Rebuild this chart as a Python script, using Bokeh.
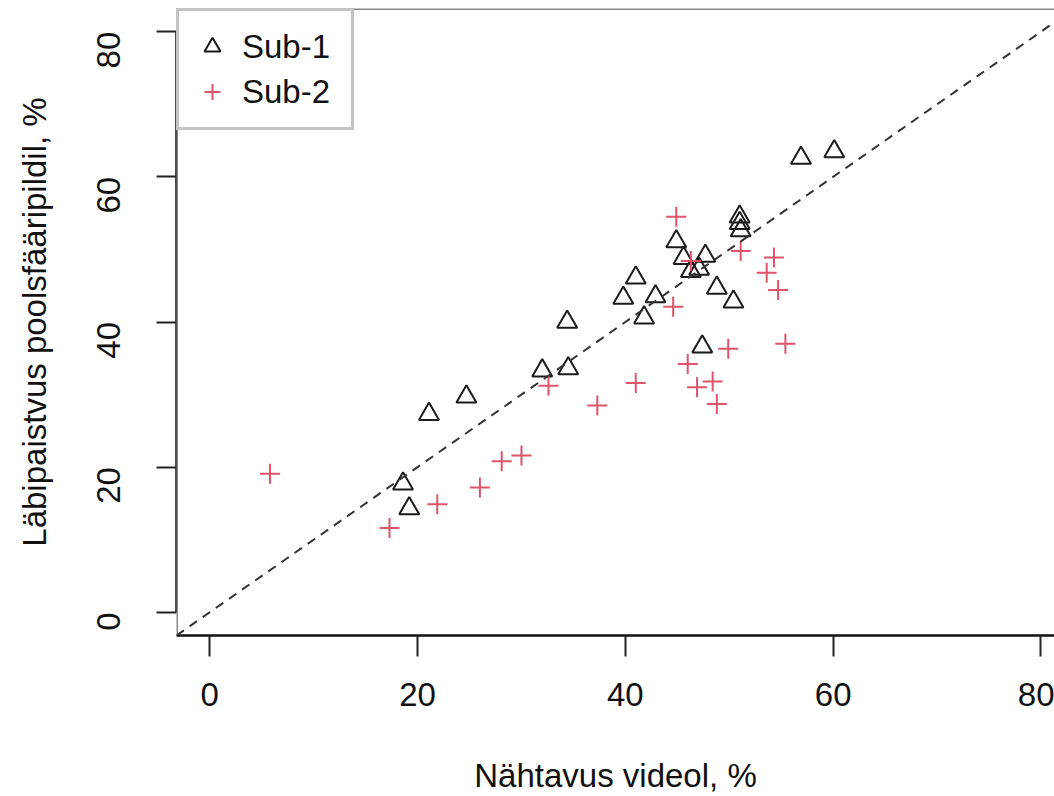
import math
from bokeh.plotting import figure
from bokeh.models import (Range1d, FixedTicker, Legend, LegendItem, Slope, Span)
from bokeh.embed import file_html
from bokeh.resources import INLINE

# Sub-1 measurements: visibility on video (%) vs. transparency on hemisphere image (%)
sub1_video = [18.6, 19.2, 21.1, 24.7, 32.0, 34.5, 34.4, 39.8, 41.0, 41.8, 42.9,
              44.9, 45.6, 46.3, 47.1, 47.7, 47.4, 48.8, 50.4, 51.0, 51.0, 51.1,
              56.9, 60.1]
sub1_hemi = [17.7, 14.3, 27.3, 29.7, 33.3, 33.6, 40.0, 43.3, 46.1, 40.6, 43.5,
             51.1, 48.8, 47.0, 47.3, 49.1, 36.6, 44.7, 42.8, 54.5, 53.6, 52.6,
             62.6, 63.5]

# Sub-2 measurements
sub2_video = [5.8, 17.3, 21.9, 26.0, 28.1, 30.0, 32.6, 37.3, 41.0, 44.6, 44.9,
              46.0, 46.3, 46.9, 48.4, 48.8, 49.9, 51.1, 53.6, 54.3, 54.7, 55.4]
sub2_hemi = [19.1, 11.6, 14.9, 17.2, 20.8, 21.6, 31.2, 28.5, 31.6, 42.1, 54.5,
             34.2, 48.4, 31.0, 31.8, 28.7, 36.3, 49.8, 46.8, 48.9, 44.4, 37.0]

tick_values = [0, 20, 40, 60, 80]
x_title = "Nähtavus videol, %"
y_title = "Läbipaistvus poolsfääripildil, %"

FONT = "Liberation Sans"
FS = "33px"
TEXT = "#111111"
PINK = "#DF536B"
BOX = "#8a8a8a"

# nominal axis limits (0..80 padded by 4 %); the right part runs past the page
XLIM = (-3.2, 83.2)
YLIM = (-3.2, 83.2)
X_VISIBLE_END = 81.3

p = figure(width=1054, height=796, output_backend="svg", toolbar_location=None,
           x_range=Range1d(XLIM[0], X_VISIBLE_END), y_range=Range1d(*YLIM),
           min_border_left=176, min_border_right=0, min_border_top=8,
           min_border_bottom=161)
p.background_fill_color = "white"
p.border_fill_color = "white"
p.outline_line_color = None
p.grid.visible = False

for ax in (p.xaxis[0], p.yaxis[0]):
    ax.ticker = FixedTicker(ticks=tick_values)
    ax.minor_tick_line_color = None
    ax.major_tick_in = 0
    ax.major_tick_line_color = "#222222"
    ax.major_tick_line_width = 2
    ax.axis_line_color = "#111111"
    ax.axis_line_width = 2.5
    ax.major_label_text_font = FONT
    ax.major_label_text_font_size = FS
    ax.major_label_text_color = TEXT
    ax.axis_label_text_font = FONT
    ax.axis_label_text_font_size = FS
    ax.axis_label_text_font_style = "normal"
    ax.axis_label_text_color = TEXT

p.xaxis[0].axis_label = x_title
p.xaxis[0].major_tick_out = 21
p.xaxis[0].major_label_standoff = 26
p.xaxis[0].axis_label_standoff = 48

p.yaxis[0].axis_label = y_title
p.yaxis[0].bounds = (0, 80)
p.yaxis[0].major_tick_out = 20
p.yaxis[0].major_label_orientation = math.pi / 2
p.yaxis[0].major_label_standoff = 48
p.yaxis[0].axis_label_standoff = 30

# plot box edges (top and left; the right side runs past the page edge)
p.add_layout(Span(location=YLIM[1], dimension="width", line_color=BOX, line_width=3))
p.add_layout(Span(location=XLIM[0], dimension="height", line_color=BOX, line_width=3))

r1 = p.scatter(sub1_video, sub1_hemi, marker="triangle", size=20,
               fill_color=None, line_color="#1a1a1a", line_width=2)
r2 = p.scatter(sub2_video, sub2_hemi, marker="cross", size=20,
               line_color=PINK, line_width=2)

# 1:1 reference line
p.add_layout(Slope(gradient=1, y_intercept=0, line_color="#333333",
                   line_width=2, line_dash="9 7"))

legend = Legend(items=[LegendItem(label="Sub-1", renderers=[r1]),
                       LegendItem(label="Sub-2", renderers=[r2])],
                location="top_left", margin=0, padding=13, spacing=0,
                glyph_width=40, glyph_height=45, label_height=45,
                label_width=96, label_standoff=10,
                label_text_font=FONT, label_text_font_size=FS,
                label_text_color=TEXT,
                border_line_color=BOX, border_line_width=3,
                background_fill_color="white", background_fill_alpha=1.0)
p.add_layout(legend)

open("out.html", "w").write(file_html(p, INLINE))
